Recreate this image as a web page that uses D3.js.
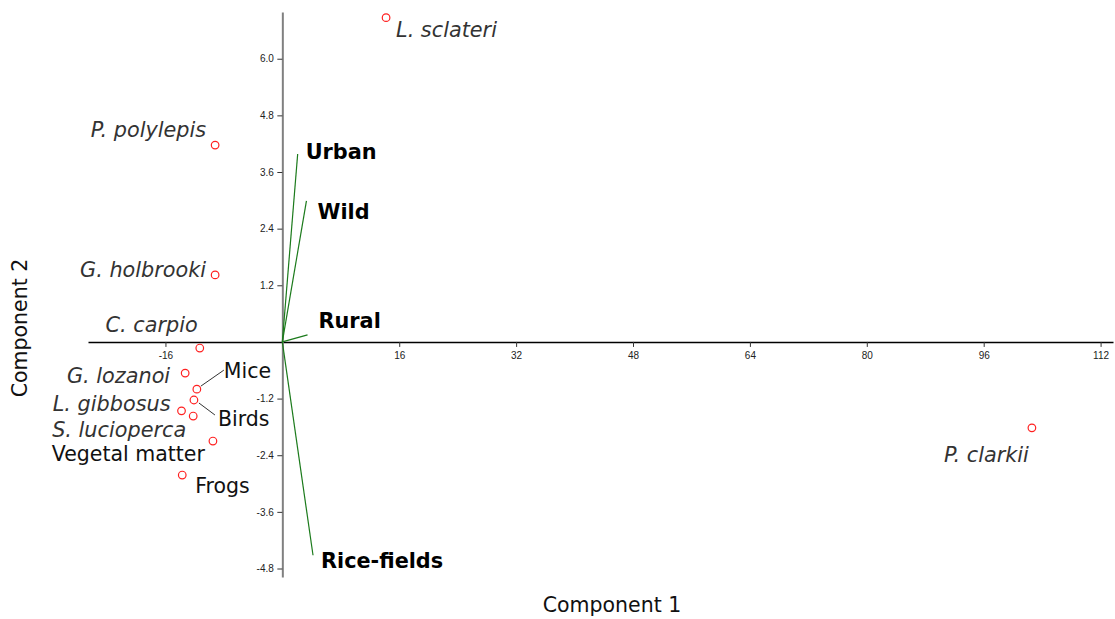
<!DOCTYPE html>
<html>
<head>
<meta charset="utf-8">
<script src="https://cdn.jsdelivr.net/npm/d3@7"></script>
<style>
  body { margin: 0; background: #fff; }
  .tick text { font-family: "Liberation Sans", Arial, sans-serif; font-size: 10px; fill: #222; }
</style>
</head>
<body>
<div id="biplot"></div>
<script>
// species / diet scores
const pointNames = ['L. sclateri', 'P. polylepis', 'G. holbrooki', 'C. carpio', 'G. lozanoi', 'Mice',
    'Birds', 'L. gibbosus', 'S. lucioperca', 'Vegetal matter', 'Frogs', 'P. clarkii'];
const pointX = [14.2, -9.2, -9.2, -11.3, -13.3, -11.7, -12.1, -13.8, -12.2, -9.5, -13.7, 102.6];
const pointY = [6.87, 4.17, 1.42, -0.13, -0.66, -1.0, -1.23, -1.46, -1.57, -2.1, -2.82, -1.82];
const italicNames = ['L. sclateri', 'P. polylepis', 'G. holbrooki', 'C. carpio', 'G. lozanoi',
    'L. gibbosus', 'S. lucioperca', 'P. clarkii'];

// habitat loadings
const vectorNames = ['Urban', 'Wild', 'Rural', 'Rice-fields'];
const vectorX = [2.1, 3.3, 3.45, 4.2];
const vectorY = [3.98, 2.99, 0.15, -4.52];

const xTicks = [-16, 16, 32, 48, 64, 80, 96, 112];
const yTicks = [-4.8, -3.6, -2.4, -1.2, 1.2, 2.4, 3.6, 4.8, 6.0];

// label placement (pixels from point: dx, dy, anchor)
const labelPos = {
    'L. sclateri': [10, 19, 'start'],
    'P. polylepis': [-9, -8, 'end'],
    'G. holbrooki': [-9, 2, 'end'],
    'C. carpio': [-2, -16, 'end'],
    'G. lozanoi': [-15, 10, 'end'],
    'Mice': [27, -11, 'start'],
    'Birds': [24, 26, 'start'],
    'L. gibbosus': [-11, 0, 'end'],
    'S. lucioperca': [-7, 21, 'end'],
    'Vegetal matter': [-8, 20, 'end'],
    'Frogs': [13, 18, 'start'],
    'P. clarkii': [-3, 34, 'end']
};
const leaderLines = {
    'Mice': [[4, -3], [27, -19]],
    'Birds': [[5, 3], [21, 15]]
};
const vectorLabelPos = [[8, 5], [11, 18], [11, -7], [8, 13]];

const width = 1115, height = 619;
const labelFont = 'DejaVu Sans, Verdana, sans-serif';

const svg = d3.select('#biplot').append('svg')
    .attr('width', width)
    .attr('height', height);

const x = d3.scaleLinear().domain([-26.6, 113.7]).range([88, 1113]);
const y = d3.scaleLinear().domain([-4.98, 6.99]).range([577, 12]);

// x axis through y = 0
const xAxis = d3.axisBottom(x)
    .tickValues(xTicks)
    .tickSize(5)
    .tickSizeOuter(0)
    .tickFormat(d => d);

const gx = svg.append('g')
    .attr('transform', `translate(0,${y(0)})`)
    .call(xAxis);
gx.select('.domain').attr('stroke', '#000').attr('stroke-width', 1.5);
gx.selectAll('.tick line').attr('stroke', '#333');
gx.selectAll('.tick text').attr('dy', '0.9em');

// y axis through x = 0
const yAxis = d3.axisLeft(y)
    .tickValues(yTicks)
    .tickSize(5)
    .tickSizeOuter(0)
    .tickFormat(d => d.toFixed(1));

const gy = svg.append('g')
    .attr('transform', `translate(${x(0)},0)`)
    .call(yAxis);
gy.select('.domain').attr('stroke', '#808080').attr('stroke-width', 2);
gy.selectAll('.tick line').attr('stroke', '#333');
gy.selectAll('.tick text').attr('x', -8.5);

// loading vectors
svg.selectAll('.vec')
    .data(vectorNames)
    .enter()
    .append('line')
    .attr('class', 'vec')
    .attr('x1', x(0))
    .attr('y1', y(0))
    .attr('x2', (d, i) => x(vectorX[i]))
    .attr('y2', (d, i) => y(vectorY[i]))
    .attr('stroke', '#1b7a1b')
    .attr('stroke-width', 1.2);

svg.selectAll('.vec-label')
    .data(vectorNames)
    .enter()
    .append('text')
    .attr('class', 'vec-label')
    .attr('x', (d, i) => x(vectorX[i]) + vectorLabelPos[i][0])
    .attr('y', (d, i) => y(vectorY[i]) + vectorLabelPos[i][1])
    .attr('font-family', labelFont)
    .attr('font-size', '20.8px')
    .attr('font-weight', 'bold')
    .attr('fill', '#000')
    .text(d => d);

// leader lines
Object.keys(leaderLines).forEach(name => {
    const i = pointNames.indexOf(name);
    const seg = leaderLines[name];
    svg.append('line')
        .attr('x1', x(pointX[i]) + seg[0][0])
        .attr('y1', y(pointY[i]) + seg[0][1])
        .attr('x2', x(pointX[i]) + seg[1][0])
        .attr('y2', y(pointY[i]) + seg[1][1])
        .attr('stroke', '#333')
        .attr('stroke-width', 1);
});

// points
svg.selectAll('.dot')
    .data(pointNames)
    .enter()
    .append('circle')
    .attr('class', 'dot')
    .attr('cx', (d, i) => x(pointX[i]))
    .attr('cy', (d, i) => y(pointY[i]))
    .attr('r', 3.8)
    .attr('fill', 'none')
    .attr('stroke', '#ff2020')
    .attr('stroke-width', 1.2);

svg.selectAll('.pt-label')
    .data(pointNames)
    .enter()
    .append('text')
    .attr('class', 'pt-label')
    .attr('x', (d, i) => x(pointX[i]) + labelPos[d][0])
    .attr('y', (d, i) => y(pointY[i]) + labelPos[d][1])
    .attr('text-anchor', d => labelPos[d][2])
    .attr('font-family', labelFont)
    .attr('font-size', d => italicNames.includes(d) ? '20.8px' : '20.5px')
    .attr('font-style', d => italicNames.includes(d) ? 'italic' : 'normal')
    .attr('fill', d => italicNames.includes(d) ? '#333' : '#111')
    .text(d => d);

// axis titles
svg.append('text')
    .attr('x', 612)
    .attr('y', 612)
    .attr('text-anchor', 'middle')
    .attr('font-family', labelFont)
    .attr('font-size', '20.5px')
    .attr('fill', '#111')
    .text('Component 1');

svg.append('text')
    .attr('transform', 'rotate(-90)')
    .attr('x', -328)
    .attr('y', 27)
    .attr('text-anchor', 'middle')
    .attr('font-family', labelFont)
    .attr('font-size', '20.5px')
    .attr('fill', '#111')
    .text('Component 2');
</script>
</body>
</html>
